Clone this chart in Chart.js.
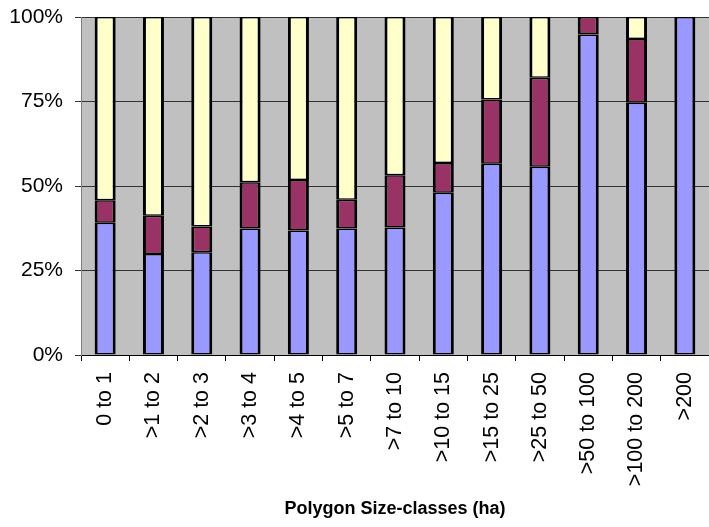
<!DOCTYPE html>
<html>
<head>
<meta charset="utf-8">
<script src="https://cdn.jsdelivr.net/npm/chart.js@4"></script>
<style>
  html, body { margin: 0; padding: 0; background: #fff; overflow: hidden; }
  #wrap { width: 709px; height: 527px; }
</style>
</head>
<body>
<div id="wrap"><canvas id="sizeChart"></canvas></div>
<script>
// --- Data ---
const sizeClasses = ['0 to 1', '>1 to 2', '>2 to 3', '>3 to 4', '>4 to 5', '>5 to 7', '>7 to 10',
  '>10 to 15', '>15 to 25', '>25 to 50', '>50 to 100', '>100 to 200', '>200'];
const seriesA = [39.1, 29.9, 30.4, 37.4, 36.8, 37.4, 37.7, 48.0, 56.6, 55.7, 94.8, 74.6, 100];
const seriesB = [6.7, 11.3, 7.6, 13.7, 15.0, 8.5, 15.5, 8.8, 19.0, 26.3, 5.2, 18.9, 0];
const seriesC = [54.2, 58.8, 62.0, 48.9, 48.2, 54.1, 46.8, 43.2, 24.4, 18.0, 0, 6.5, 0];
const yTicks = [0, 25, 50, 75, 100];

const FONT = '"Liberation Sans", Arial, sans-serif';

// grey plot background
const plotBg = {
  id: 'plotBg',
  beforeDraw(chart) {
    const { ctx, chartArea: a } = chart;
    ctx.save();
    ctx.fillStyle = '#c0c0c0';
    ctx.fillRect(a.left, a.top, a.right - a.left, a.bottom - a.top);
    ctx.restore();
  }
};

const barStyle = { borderColor: '#000', borderWidth: { top: 1.5, bottom: 1.5, left: 3, right: 3 },
  borderSkipped: false, barPercentage: 0.435, categoryPercentage: 1.0 };

const ctx = document.getElementById('sizeChart');
const sizeChart = new Chart(ctx, {
  type: 'bar',
  data: {
    labels: sizeClasses,
    datasets: [
      { label: 'Series 1', data: seriesA, backgroundColor: '#9999ff', ...barStyle },
      { label: 'Series 2', data: seriesB, backgroundColor: '#993366', ...barStyle },
      { label: 'Series 3', data: seriesC, backgroundColor: '#ffffcc', ...barStyle }
    ]
  },
  options: {
    responsive: true,
    maintainAspectRatio: false,
    animation: false,
    layout: { padding: { left: 9, top: 17, right: 0, bottom: 0 } },
    plugins: { legend: { display: false }, tooltip: { enabled: false } },
    scales: {
      x: {
        stacked: true,
        // fixed axis size so the plot lands where the original one is
        afterFit(axis) { axis.height = 172; axis.paddingLeft = 0; axis.paddingRight = 0; },
        grid: { offset: true, drawOnChartArea: false, color: '#000', tickLength: 6 },
        border: { color: '#000', width: 1 },
        ticks: { color: '#000', font: { family: FONT, size: 21.5 }, minRotation: 90, maxRotation: 90, padding: 11, autoSkip: false },
        title: { display: true, text: 'Polygon Size-classes (ha)', color: '#000',
          font: { family: FONT, size: 18, weight: 'bold' }, padding: { top: 12, bottom: 7 } }
      },
      y: {
        stacked: true,
        min: 0, max: 100,
        afterBuildTicks(axis) { axis.ticks = yTicks.map(v => ({ value: v })); },
        afterFit(axis) { axis.width = 72; axis.paddingTop = 0; axis.paddingBottom = 0; },
        grid: { color: '#333', lineWidth: 1, tickLength: 6 },
        border: { color: '#808080', width: 1 },
        ticks: { color: '#000', font: { family: FONT, size: 21 }, padding: 12, callback: v => v + '%' }
      }
    }
  },
  plugins: [plotBg]
});
</script>
</body>
</html>
